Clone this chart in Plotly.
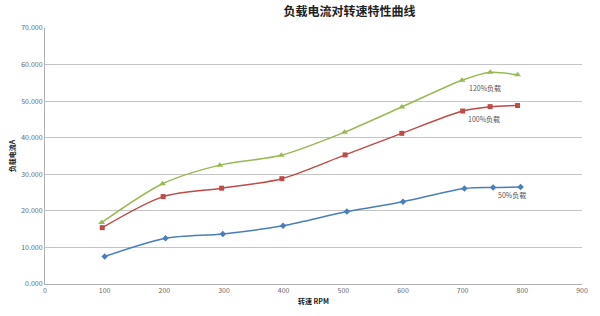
import plotly.graph_objects as go

title = "负载电流对转速特性曲线"
x_title = "转速 RPM"
y_title = "负载电流A"

rpm_50 = [100, 202, 298, 399, 506, 600, 703, 751, 797]
cur_50 = [7.5, 12.5, 13.7, 15.9, 19.8, 22.5, 26.1, 26.4, 26.5]

rpm_100 = [96, 198, 296, 397, 503, 598, 700, 746, 792]
cur_100 = [15.4, 23.9, 26.2, 28.8, 35.3, 41.2, 47.3, 48.5, 48.8]

rpm_120 = [95, 197, 293, 396, 502, 598, 699, 746, 792]
cur_120 = [16.8, 27.4, 32.5, 35.2, 41.5, 48.4, 55.7, 57.9, 57.2]

labels = ["50%负载", "100%负载", "120%负载"]
label_pos = [(782, 24.3), (735, 45.0), (737, 53.7)]

y_ticks = [0, 10, 20, 30, 40, 50, 60, 70]
x_ticks = [0, 100, 200, 300, 400, 500, 600, 700, 800, 900]

FONT = "Noto Sans CJK SC"
fig = go.Figure()
series = [
    (rpm_50, cur_50, "#4a7ebb", "diamond", 5),
    (rpm_100, cur_100, "#be4b48", "square", 5),
    (rpm_120, cur_120, "#98b954", "triangle-up", 6),
]
for (xs, ys, col, sym, sz), name in zip(series, labels):
    fig.add_trace(go.Scatter(
        x=xs, y=ys, mode="lines+markers", name=name,
        line=dict(color=col, width=1.5, shape="spline", smoothing=0.8),
        marker=dict(color=col, symbol=sym, size=sz),
    ))

for name, (lx, ly) in zip(labels, label_pos):
    fig.add_annotation(x=lx, y=ly, text=name, showarrow=False,
                       font=dict(size=7, color="#555", family=FONT))

fig.update_layout(
    width=600, height=316,
    margin=dict(l=44, r=16, t=28, b=32),
    paper_bgcolor="white", plot_bgcolor="white",
    showlegend=False,
    font=dict(family=FONT, size=7, color="#555"),
    title=dict(text="<b>" + title + "</b>", x=0.567, xref="paper", xanchor="center",
               y=0.962, yref="container", yanchor="middle",
               font=dict(size=12, color="#222", family=FONT)),
)
fig.update_xaxes(range=[0, 900], tickvals=x_ticks, showgrid=False,
                 showline=True, linecolor="#b0b0b0", linewidth=1,
                 ticks="outside", ticklen=0, zeroline=False,
                 tickfont=dict(size=7, color="#666"),
                 title=dict(text="<b>" + x_title + "</b>", standoff=4,
                            font=dict(size=7, color="#222")))
fig.update_yaxes(range=[0, 70], tickvals=y_ticks,
                 ticktext=[f"{v:.3f}" for v in y_ticks],
                 showgrid=True, gridcolor="#c4c4c4", gridwidth=1,
                 showline=True, linecolor="#b0b0b0", linewidth=1,
                 zeroline=False, ticklen=0,
                 tickfont=dict(size=7, color="#666"),
                 title=dict(text="<b>" + y_title + "</b>", standoff=4,
                            font=dict(size=7, color="#222")))

fig.write_html("out.html")
